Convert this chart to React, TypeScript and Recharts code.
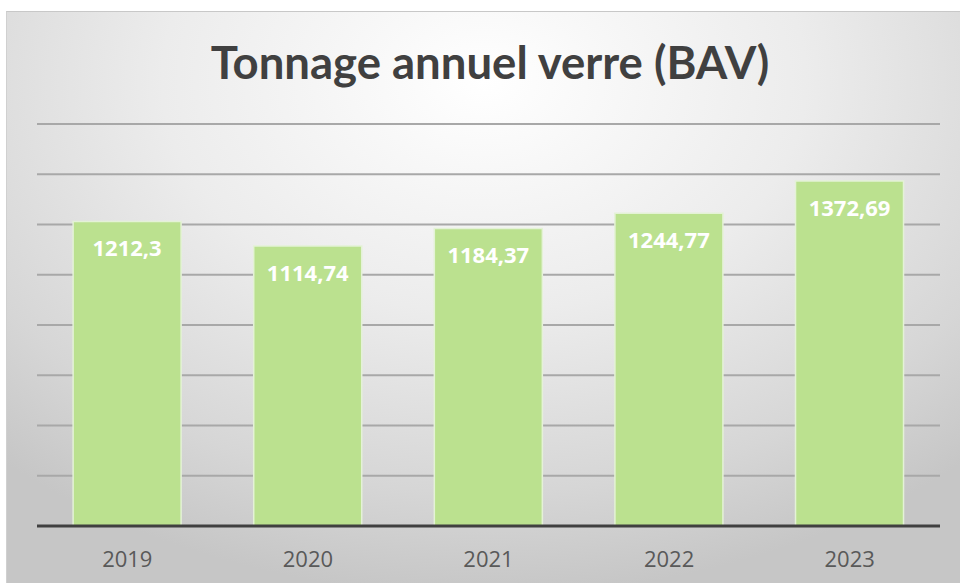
import { BarChart, Bar, XAxis, YAxis, CartesianGrid, LabelList } from "recharts";

const years = ["2019", "2020", "2021", "2022", "2023"];
const tonnage = [1212.3, 1114.74, 1184.37, 1244.77, 1372.69];
const yTicks = [0, 200, 400, 600, 800, 1000, 1200, 1400, 1600];

const data = years.map((year, i) => ({ year, value: tonnage[i] }));

const fmt = (v: number | string) => String(v).replace(".", ",");

export default function App() {
  return (
    <div style={{ position: "absolute", left: 0, top: 0, width: 960, height: 583, background: "#fff", overflow: "hidden" }}>
      <div
        style={{
          position: "absolute",
          left: 6,
          top: 11,
          width: 954,
          height: 572,
          borderTop: "1px solid #c8c8c8",
          borderLeft: "1px solid #d0d0d0",
          background: "radial-gradient(ellipse 75% 90% at 50% 12%, #ffffff 0%, #ececec 45%, #d6d6d6 80%, #c6c6c6 100%)"
        }}
      />
      <div
        style={{
          position: "absolute",
          left: 0,
          top: 34,
          width: 980,
          textAlign: "center",
          fontFamily: "Lato, 'Open Sans', sans-serif",
          fontWeight: 700,
          fontSize: 45.5,
          color: "#404040",
          lineHeight: "56px"
        }}
      >
        Tonnage annuel verre (BAV)
      </div>
      <div style={{ position: "absolute", left: 0, top: 0 }}>
        <BarChart
          width={960}
          height={583}
          data={data}
          margin={{ top: 124, right: 20, left: 37, bottom: 0 }}
          barCategoryGap="20%"
        >
          <CartesianGrid horizontal vertical={false} stroke="#a8a8a8" strokeWidth={2} />
          <YAxis hide domain={[0, 1600]} ticks={yTicks} />
          <XAxis
            dataKey="year"
            height={57}
            axisLine={{ stroke: "#404040", strokeWidth: 3 }}
            tickLine={false}
            tickMargin={19}
            tick={{ fill: "#595959", fontSize: 22, fontFamily: "'Open Sans', sans-serif" }}
          />
          <Bar dataKey="value" fill="#bbe18f" stroke="#e4f2d6" strokeWidth={1.5} isAnimationActive={false}>
            <LabelList
              dataKey="value"
              position="insideTop"
              offset={19}
              formatter={fmt}
              fill="#ffffff"
              fontSize={22}
              fontWeight={700}
              fontFamily="'Open Sans', sans-serif"
            />
          </Bar>
        </BarChart>
      </div>
    </div>
  );
}
